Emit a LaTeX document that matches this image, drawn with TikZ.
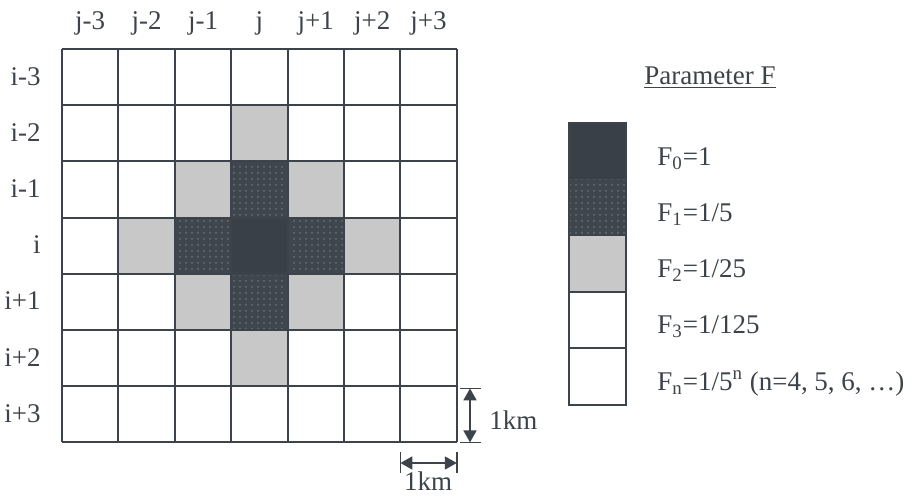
\documentclass[tikz,border=0pt]{standalone}
\usepackage{fontspec}
\setmainfont{Liberation Serif}
\usetikzlibrary{arrows.meta,patterns}
\definecolor{ink}{HTML}{3D434A}
\definecolor{fzero}{HTML}{3A4047}
\definecolor{fone}{HTML}{40464D}
\definecolor{fdots}{HTML}{6A7077}
\definecolor{ftwo}{HTML}{C8C8C8}
\tikzset{
  cellline/.style={draw=ink,line width=1pt},
  lab/.style={text=ink,font=\fontsize{13.5}{16}\selectfont,inner sep=0pt},
  dimarrow/.style={draw=ink,line width=0.9pt,{Triangle[length=6pt,width=6.5pt]}-{Triangle[length=6pt,width=6.5pt]}},
  dimtick/.style={draw=ink,line width=0.9pt},
}
\begin{document}
\begin{tikzpicture}[x=0.5pt,y=-0.5pt]
  \useasboundingbox (0,0) rectangle (912,503);
  % grid of cells, shaded by distance to (i,j)
  \foreach \r in {-3,...,3}
    \foreach \c in {-3,...,3} {
      \pgfmathtruncatemacro\dist{abs(\r)+abs(\c)}
      \ifnum\dist=0 \def\cellcol{fzero}\else
        \ifnum\dist=1 \def\cellcol{fone}\else
          \ifnum\dist=2 \def\cellcol{ftwo}\else \def\cellcol{white}\fi\fi\fi
      \fill[\cellcol] ({62+56.4*(\c+3)},{49+56.2*(\r+3)}) rectangle +(56.4,56.2);
      \ifnum\dist=1
        \fill[pattern=dots,pattern color=fdots] ({62+56.4*(\c+3)},{49+56.2*(\r+3)}) rectangle +(56.4,56.2);
      \fi
    }
  \foreach \k in {0,...,7} {
    \draw[cellline] ({62+56.4*\k},49) -- ({62+56.4*\k},442.4);
    \draw[cellline] (62,{49+56.2*\k}) -- (456.8,{49+56.2*\k});
  }
  % column and row labels
  \foreach \t [count=\n from 0] in {j-3,j-2,j-1,j,j+1,j+2,j+3}
    \node[lab,anchor=base] (col\n) at ({62+56.4*(\n+0.5)},29) {\t};
  \foreach \t [count=\n from 0] in {i-3,i-2,i-1,i,i+1,i+2,i+3}
    \node[lab,anchor=base east] (row\n) at (41,{49+56.2*(\n+0.5)+8}) {\t};
  % cell size
  \coordinate (vtop) at (470,388.4);
  \coordinate (vbot) at (470,442.4);
  \coordinate (hleft) at (400.4,463);
  \coordinate (hright) at (456.8,463);
  \draw[dimtick] (460,388.4) -- (481,388.4);
  \draw[dimtick] (460,442.4) -- (481,442.4);
  \draw[dimtick] (400.4,452) -- (400.4,473);
  \draw[dimtick] (456.8,452) -- (456.8,473);
  \draw[dimarrow] (vtop) -- (vbot);
  \draw[dimarrow] (hleft) -- (hright);
  \node[lab,anchor=base west] (vkm) at (489,429) {1km};
  \node[lab,anchor=base] (hkm) at (428,490) {1km};
  % legend
  \node[lab,anchor=base west] (ptitle) at (644,84) {\underline{Parameter F}};
  \fill[fzero] (569,123) rectangle (626,179);
  \fill[fone] (569,179) rectangle (626,235);
  \fill[pattern=dots,pattern color=fdots] (569,179) rectangle (626,235);
  \fill[ftwo] (569,235) rectangle (626,292);
  \draw[cellline] (569,123) rectangle (626,405);
  \draw[cellline] (569,235) -- (626,235);
  \draw[cellline] (569,292) -- (626,292);
  \draw[cellline] (569,348) -- (626,348);
  \node[lab,anchor=base west] (fz) at (657,165) {F\textsubscript{0}=1};
  \node[lab,anchor=base west] (fo) at (657,221) {F\textsubscript{1}=1/5};
  \node[lab,anchor=base west] (ft) at (657,277) {F\textsubscript{2}=1/25};
  \node[lab,anchor=base west] (fh) at (657,333) {F\textsubscript{3}=1/125};
  \node[lab,anchor=base west] (fn) at (657,390) {F\textsubscript{n}=1/5\textsuperscript{n} (n=4, 5, 6, \dots)};
\end{tikzpicture}
\end{document}
